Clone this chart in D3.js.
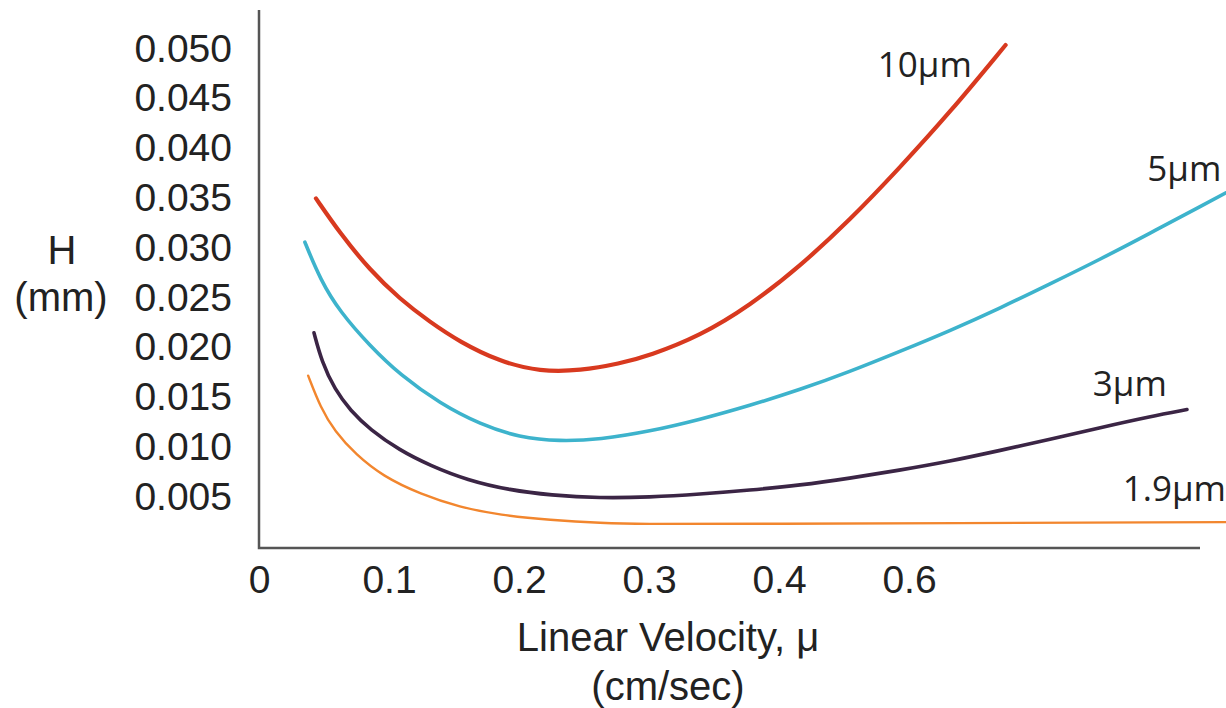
<!doctype html>
<html lang="en">
<head>
<meta charset="utf-8">
<title>H vs linear velocity</title>
<style>
html, body {
	margin: 0;
	padding: 0;
	background: #fff;
	overflow: hidden;
}
svg text.tick { font-family: 'Liberation Sans', Arial, sans-serif; font-size: 39px; fill: #222; }
svg text.title { font-family: 'Liberation Sans', Arial, sans-serif; font-size: 40px; fill: #222; }
svg text.curve { font-family: 'Open Sans', 'Noto Sans', sans-serif; font-size: 35px; fill: #222; }
</style>
</head>
<body>
<div id="chart"></div>
<script src="https://cdnjs.cloudflare.com/ajax/libs/d3/7.8.5/d3.min.js"></script>
<script>
// velocity (cm/sec) / H (mm)
var xTicks = [0, 0.1, 0.2, 0.3, 0.4, 0.5];
var xTickLabels = ['0', '0.1', '0.2', '0.3', '0.4', '0.6']; // the original says 0.6 here
var yTicks = [0.005, 0.010, 0.015, 0.020, 0.025, 0.030, 0.035, 0.040, 0.045, 0.050];

var v10 = [0.0415, 0.060, 0.083, 0.106, 0.129, 0.152, 0.183, 0.214, 0.245, 0.275, 0.298, 0.337, 0.375, 0.414, 0.452, 0.490, 0.529, 0.572];
var h10 = [0.0348, 0.0313, 0.0276, 0.0247, 0.0224, 0.0204, 0.0184, 0.0174, 0.0175, 0.0182, 0.0190, 0.0210, 0.0240, 0.0280, 0.0326, 0.0378, 0.0434, 0.0502];

var v5 = [0.033, 0.045, 0.060, 0.083, 0.106, 0.137, 0.168, 0.198, 0.229, 0.260, 0.298, 0.337, 0.375, 0.414, 0.452, 0.490, 0.529, 0.568, 0.606, 0.645, 0.683, 0.722, 0.752];
var h5 = [0.0304, 0.0266, 0.0234, 0.0200, 0.0171, 0.0142, 0.0121, 0.0108, 0.0104, 0.0106, 0.0114, 0.0126, 0.0140, 0.0156, 0.0174, 0.0194, 0.0215, 0.0238, 0.0262, 0.0287, 0.0313, 0.0340, 0.0361];

var v3 = [0.040, 0.046, 0.056, 0.068, 0.083, 0.106, 0.129, 0.158, 0.191, 0.222, 0.260, 0.298, 0.337, 0.375, 0.414, 0.452, 0.490, 0.529, 0.568, 0.606, 0.645, 0.683, 0.7115];
var h3 = [0.0213, 0.0184, 0.0156, 0.0135, 0.0116, 0.0095, 0.0080, 0.0065, 0.0055, 0.0050, 0.0047, 0.0048, 0.0051, 0.0055, 0.0060, 0.0067, 0.0075, 0.0084, 0.0095, 0.0106, 0.0118, 0.0129, 0.0136];

var v19 = [0.0355, 0.045, 0.056, 0.072, 0.093, 0.122, 0.152, 0.183, 0.222, 0.260, 0.298, 0.337, 0.752];
var h19 = [0.0170, 0.0138, 0.0114, 0.0091, 0.0069, 0.0051, 0.0038, 0.0030, 0.0025, 0.0022, 0.0021, 0.0021, 0.0023];

var names = ['10\u00b5m', '5\u00b5m', '3\u00b5m', '1.9\u00b5m'];

(function () {
	'use strict';

	var W = 1226, H = 708;

	var x = d3.scaleLinear().domain([0, 0.5]).range([262, 912]);
	var y = d3.scaleLinear().domain([0, 0.05]).range([545, 47]);

	var svg = d3.select('#chart').append('svg')
		.attr('width', W)
		.attr('height', H);

	// axes, no tick marks - just the labels
	svg.append('path')
		.attr('d', 'M259,10V548H1200')
		.attr('fill', 'none')
		.attr('stroke', '#555')
		.attr('stroke-width', 2.5);

	var yAxis = d3.axisLeft(y).tickValues(yTicks).tickSize(0).tickPadding(0)
		.tickFormat(d3.format('.3f'));
	var gy = svg.append('g').attr('transform', 'translate(232,0)').call(yAxis);
	gy.select('.domain').remove();
	gy.attr('font-size', null).attr('font-family', null);
	gy.selectAll('text').attr('class', 'tick').attr('dy', '0.36em');

	var xAxis = d3.axisBottom(x).tickValues(xTicks).tickSize(0).tickPadding(0)
		.tickFormat(function (d, i) { return xTickLabels[i]; });
	var gx = svg.append('g').attr('transform', 'translate(-3,565)').call(xAxis);
	gx.select('.domain').remove();
	gx.attr('font-size', null).attr('font-family', null);
	gx.selectAll('text').attr('class', 'tick').attr('dy', '0.72em');

	// titles
	svg.append('text').attr('class', 'title').attr('x', 62).attr('y', 264).attr('text-anchor', 'middle').text('H');
	svg.append('text').attr('class', 'title').attr('x', 61).attr('y', 311).attr('text-anchor', 'middle').text('(mm)');
	svg.append('text').attr('class', 'title').attr('x', 668).attr('y', 651).attr('text-anchor', 'middle').text('Linear Velocity, \u03bc');
	svg.append('text').attr('class', 'title').attr('x', 668).attr('y', 700).attr('text-anchor', 'middle').text('(cm/sec)');

	// curves
	var series = [
		{ v: v10, h: h10, color: '#d8391f', width: 4.2 },
		{ v: v5, h: h5, color: '#3db3cc', width: 3.6 },
		{ v: v3, h: h3, color: '#3b2545', width: 3.6 },
		{ v: v19, h: h19, color: '#f2862e', width: 2.4 }
	];

	var line = d3.line()
		.x(function (d) { return x(d[0]); })
		.y(function (d) { return y(d[1]); })
		.curve(d3.curveBasis);

	svg.selectAll('path.curve')
		.data(series).enter()
		.append('path')
		.attr('class', 'curve')
		.attr('fill', 'none')
		.attr('stroke', function (d) { return d.color; })
		.attr('stroke-width', function (d) { return d.width; })
		.attr('stroke-linecap', 'round')
		.attr('d', function (d) { return line(d3.zip(d.v, d.h)); });

	// curve labels, right end of each text
	var spots = [[0.546, 0.0470], [0.738, 0.0365], [0.696, 0.0150], [0.7415, 0.0044]];
	svg.selectAll('text.curve')
		.data(names).enter()
		.append('text')
		.attr('class', 'curve')
		.attr('text-anchor', 'end')
		.attr('x', function (d, i) { return x(spots[i][0]); })
		.attr('y', function (d, i) { return y(spots[i][1]); })
		.text(function (d) { return d; });
})();
</script>
</body>
</html>
